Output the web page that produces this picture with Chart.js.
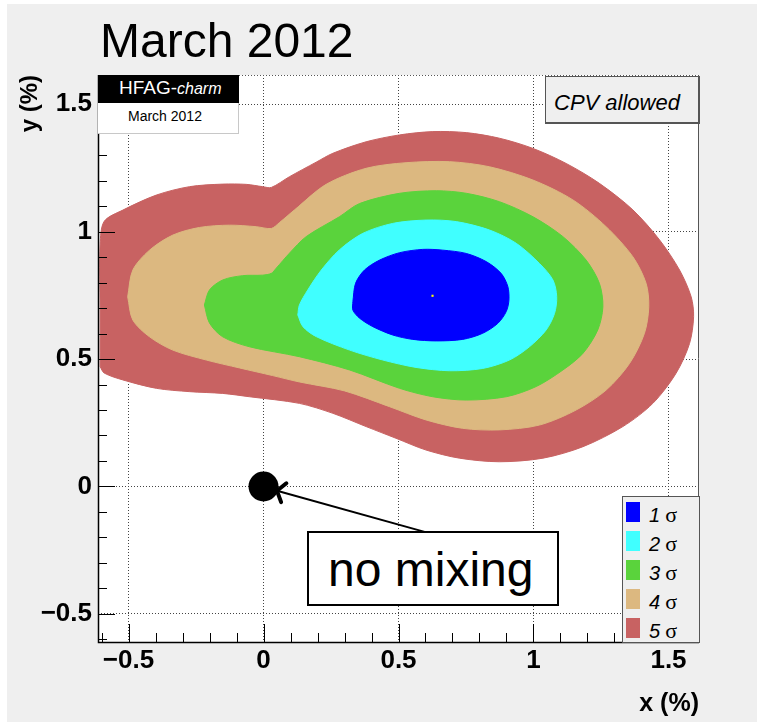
<!DOCTYPE html>
<html>
<head>
<meta charset="utf-8">
<title>HFAG-charm March 2012</title>
<script src="https://cdn.jsdelivr.net/npm/chart.js@4.4.1/dist/chart.umd.min.js"></script>
<style>
  html, body { margin: 0; padding: 0; background: #fff; }
  #page { position: relative; width: 765px; height: 727px; overflow: hidden; font-family: "Liberation Sans", Arial, sans-serif; }
  #pad { position: absolute; left: 7px; top: 4px; width: 750px; height: 718px; background: #efefef; }
  #plot { position: absolute; left: 0; top: 0; }
  .lbl { position: absolute; white-space: nowrap; line-height: 1; color: #000; }
  #title { left: 100px; top: 17px; font-size: 48px; }
  #hfagTop { position: absolute; left: 98px; top: 75px; width: 141px; height: 28px; background: #000; }
  #hfagTop .lbl { left: 21px; top: 3px; font-size: 19px; color: #fff; }
  #hfagTop i { font-size: 16px; }
  #hfagBottom { position: absolute; left: 98px; top: 103px; width: 140px; height: 30px; background: #fff; border-right: 1px solid #c8c8c8; border-bottom: 1px solid #c8c8c8; }
  #hfagBottom .lbl { left: 30px; top: 6px; font-size: 14px; }
  #cpv { position: absolute; left: 545px; top: 76px; width: 152px; height: 45px; background: #efefef; border: 1px solid #555; border-right-width: 2px; border-bottom-width: 2px; }
  #cpv .lbl { left: 8px; top: 15px; font-size: 22px; font-style: italic; }
  #legend { position: absolute; left: 622px; top: 496px; width: 76px; height: 145px; background: #efefef; border: 1px solid #555; }
  .swatch { position: absolute; left: 3px; width: 14px; height: 20px; }
  .entry { position: absolute; left: 26px; font-size: 20px; }
  .entry i { font-style: italic; }
  .entry span { font-family: "Liberation Serif", "DejaVu Serif", serif; font-size: 22px; margin-left: 5px; }
  #nomix { position: absolute; left: 307px; top: 531px; width: 252px; height: 75px; box-sizing: border-box; background: #fff; border: 2px solid #000; }
  #nomix .lbl { left: 19px; top: 13px; font-size: 48px; }
</style>
</head>
<body>
<div id="page">
  <div id="pad"></div>
  <canvas id="plot" width="765" height="727"></canvas>
  <div class="lbl" id="title">March 2012</div>
  <div id="hfagTop"><div class="lbl">HFAG-<i>charm</i></div></div>
  <div id="hfagBottom"><div class="lbl">March 2012</div></div>
  <div id="cpv"><div class="lbl">CPV allowed</div></div>
  <div id="legend"></div>
  <div id="nomix"><div class="lbl">no mixing</div></div>
</div>
<script>
  // contour outlines, x and y in %
  const sigma1X = [0.331, 0.341, 0.374, 0.430, 0.504, 0.590, 0.664, 0.751, 0.825, 0.880, 0.905, 0.909, 0.899, 0.868, 0.812, 0.738, 0.640, 0.553, 0.479, 0.405, 0.356, 0.331];
  const sigma1Y = [0.725, 0.797, 0.849, 0.888, 0.917, 0.930, 0.927, 0.914, 0.882, 0.836, 0.784, 0.731, 0.686, 0.640, 0.601, 0.577, 0.571, 0.577, 0.594, 0.627, 0.660, 0.692];

  const sigma2X = [0.127, 0.133, 0.164, 0.214, 0.281, 0.368, 0.479, 0.602, 0.714, 0.837, 0.936, 1.022, 1.072, 1.086, 1.078, 1.047, 0.985, 0.911, 0.812, 0.689, 0.565, 0.442, 0.319, 0.195, 0.146];
  const sigma2Y = [0.673, 0.712, 0.771, 0.849, 0.928, 0.993, 1.032, 1.045, 1.039, 1.006, 0.954, 0.875, 0.810, 0.745, 0.679, 0.614, 0.548, 0.496, 0.463, 0.454, 0.467, 0.496, 0.535, 0.588, 0.627];

  const sigma3X = [-0.219, -0.200, -0.151, -0.077, -0.003, 0.029, 0.047, 0.096, 0.158, 0.281, 0.356, 0.504, 0.640, 0.751, 0.874, 0.998, 1.109, 1.195, 1.244, 1.257, 1.238, 1.183, 1.109, 1.010, 0.899, 0.751, 0.627, 0.504, 0.319, 0.133, -0.052, -0.151, -0.200];
  const sigma3Y = [0.712, 0.771, 0.810, 0.827, 0.829, 0.836, 0.856, 0.915, 0.980, 1.058, 1.110, 1.150, 1.160, 1.150, 1.117, 1.058, 0.980, 0.888, 0.797, 0.705, 0.614, 0.522, 0.457, 0.392, 0.352, 0.339, 0.352, 0.385, 0.457, 0.509, 0.548, 0.587, 0.641];

  const sigma4X = [-0.503, -0.484, -0.422, -0.336, -0.237, -0.126, -0.027, 0.029, 0.059, 0.115, 0.232, 0.380, 0.528, 0.689, 0.837, 0.998, 1.146, 1.269, 1.368, 1.417, 1.427, 1.411, 1.356, 1.269, 1.158, 1.022, 0.874, 0.738, 0.602, 0.467, 0.300, 0.133, 0.034, -0.089, -0.212, -0.336, -0.422, -0.484];
  const sigma4Y = [0.744, 0.849, 0.927, 0.986, 1.016, 1.025, 1.019, 1.012, 1.035, 1.085, 1.185, 1.248, 1.270, 1.274, 1.254, 1.202, 1.124, 1.019, 0.901, 0.797, 0.705, 0.601, 0.483, 0.378, 0.300, 0.241, 0.222, 0.228, 0.261, 0.313, 0.375, 0.410, 0.435, 0.465, 0.496, 0.535, 0.587, 0.653];

  const sigma5X = [-0.605, -0.605, -0.605, -0.590, -0.521, -0.397, -0.274, -0.151, -0.064, -0.003, 0.029, 0.096, 0.195, 0.257, 0.380, 0.504, 0.627, 0.751, 0.874, 0.998, 1.121, 1.244, 1.368, 1.467, 1.541, 1.584, 1.593, 1.578, 1.528, 1.442, 1.331, 1.183, 1.035, 0.874, 0.726, 0.602, 0.491, 0.380, 0.257, 0.133, -0.052, -0.151, -0.274, -0.397, -0.521, -0.590];
  const sigma5Y = [0.470, 0.700, 0.950, 1.040, 1.084, 1.143, 1.176, 1.186, 1.185, 1.176, 1.173, 1.215, 1.272, 1.307, 1.352, 1.379, 1.392, 1.388, 1.366, 1.326, 1.267, 1.189, 1.085, 0.967, 0.849, 0.744, 0.666, 0.561, 0.444, 0.326, 0.235, 0.156, 0.111, 0.097, 0.111, 0.143, 0.189, 0.235, 0.287, 0.326, 0.352, 0.365, 0.372, 0.385, 0.418, 0.445];

  const contourLabels = ["1", "2", "3", "4", "5"];
  const contourColors = ["#0000ff", "#40ffff", "#5ad33c", "#dcb880", "#c86262"];

  const bestFitX = [0.626];
  const bestFitY = [0.748];
  const noMixX = [0];
  const noMixY = [0];
  const arrowX = [0.61, 0.05];
  const arrowY = [-0.182, -0.017];

  const xMin = -0.613, xMax = 1.613;
  const yMin = -0.61, yMax = 1.614;
  const xTickValues = [-0.5, 0, 0.5, 1, 1.5];
  const xTickLabels = ["\u22120.5", "0", "0.5", "1", "1.5"];
  const yTickValues = [-0.5, 0, 0.5, 1, 1.5];
  const yTickLabels = ["\u22120.5", "0", "0.5", "1", "1.5"];

  function pairs(xs, ys, close) {
    const pts = xs.map((x, i) => ({ x, y: ys[i] }));
    if (close) pts.push({ x: xs[0], y: ys[0] });
    return pts;
  }

  const contours = [
    [sigma1X, sigma1Y],
    [sigma2X, sigma2Y],
    [sigma3X, sigma3Y],
    [sigma4X, sigma4Y],
    [sigma5X, sigma5Y],
  ];

  // html legend, built from the same labels / colours
  const legendNode = document.getElementById("legend");
  contourLabels.forEach((label, i) => {
    const sw = document.createElement("div");
    sw.className = "swatch";
    sw.style.top = (5 + 29 * i) + "px";
    sw.style.background = contourColors[i];
    legendNode.appendChild(sw);
    const entry = document.createElement("div");
    entry.className = "lbl entry";
    entry.style.top = (7 + 29 * i) + "px";
    entry.innerHTML = "<i>" + label + "</i><span>\u03c3</span>";
    legendNode.appendChild(entry);
  });

  const plotDecor = {
    id: "plotDecor",
    beforeDraw(chart) {
      const { ctx, chartArea: a } = chart;
      ctx.save();
      ctx.fillStyle = "#ffffff";
      ctx.fillRect(a.left, a.top, a.right - a.left, a.bottom - a.top);
      ctx.restore();
    },
    afterDatasetsDraw(chart) {
      // arrow head at the "no mixing" point
      const { ctx, scales: { x, y } } = chart;
      const x0 = x.getPixelForValue(arrowX[0]);
      const y0 = y.getPixelForValue(arrowY[0]);
      const x1 = x.getPixelForValue(arrowX[1]);
      const y1 = y.getPixelForValue(arrowY[1]);
      const ang = Math.atan2(y0 - y1, x0 - x1);
      ctx.save();
      ctx.strokeStyle = "#000";
      ctx.lineWidth = 4;
      ctx.lineCap = "round";
      ctx.beginPath();
      [-0.95, 0.95].forEach((d) => {
        ctx.moveTo(x1, y1);
        ctx.lineTo(x1 + 12 * Math.cos(ang + d), y1 + 12 * Math.sin(ang + d));
      });
      ctx.stroke();
      ctx.restore();
    },
    afterDraw(chart) {
      const { ctx, chartArea: a, scales: { x, y } } = chart;
      ctx.save();
      ctx.strokeStyle = "#000";
      ctx.lineWidth = 1;
      ctx.beginPath();
      for (let i = -6; i <= 16; i += 1) {
        const px = Math.round(x.getPixelForValue(i / 10)) + 0.5;
        const xl = i % 5 === 0 ? 18 : 9;
        ctx.moveTo(px, a.bottom);
        ctx.lineTo(px, a.bottom - xl);
        const py = Math.round(y.getPixelForValue(i / 10)) + 0.5;
        const yl = i % 5 === 0 ? 17 : 9;
        ctx.moveTo(a.left, py);
        ctx.lineTo(a.left + yl, py);
      }
      ctx.stroke();

      // frame: solid left/bottom, grey right, dotted top
      ctx.beginPath();
      ctx.lineWidth = 1.5;
      ctx.moveTo(a.left + 0.5, a.top);
      ctx.lineTo(a.left + 0.5, a.bottom + 0.5);
      ctx.lineTo(a.right, a.bottom + 0.5);
      ctx.stroke();
      ctx.beginPath();
      ctx.lineWidth = 1;
      ctx.strokeStyle = "#555";
      ctx.moveTo(a.right - 0.5, a.top);
      ctx.lineTo(a.right - 0.5, a.bottom);
      ctx.stroke();
      ctx.beginPath();
      ctx.setLineDash([1, 2]);
      ctx.moveTo(a.left, a.top + 0.5);
      ctx.lineTo(a.right, a.top + 0.5);
      ctx.stroke();
      ctx.restore();
    },
  };

  const contourSets = contours.map(([xs, ys], i) => ({
    label: contourLabels[i] + " \u03c3",
    data: pairs(xs, ys, true),
    showLine: true,
    fill: "shape",
    tension: 0.3,
    backgroundColor: contourColors[i],
    borderColor: contourColors[i],
    borderWidth: 1,
    pointRadius: 0,
    pointHoverRadius: 0,
  }));

  new Chart(document.getElementById("plot"), {
    type: "scatter",
    data: {
      datasets: [
        {
          label: "best fit",
          data: pairs(bestFitX, bestFitY),
          pointStyle: "rect",
          pointRadius: 1.5,
          backgroundColor: "#ffff00",
          borderWidth: 0,
        },
        {
          label: "no mixing",
          data: pairs(noMixX, noMixY),
          pointRadius: 15,
          backgroundColor: "#000",
          borderWidth: 0,
        },
        {
          label: "arrow",
          data: pairs(arrowX, arrowY),
          showLine: true,
          borderColor: "#000",
          borderWidth: 2,
          pointRadius: 0,
          fill: false,
        },
        ...contourSets,
      ],
    },
    options: {
      responsive: false,
      animation: false,
      events: [],
      layout: { padding: { top: 75, right: 66, left: 0, bottom: 0 } },
      plugins: {
        legend: { display: false },
        tooltip: { enabled: false },
      },
      scales: {
        x: {
          type: "linear",
          min: xMin,
          max: xMax,
          z: 1,
          afterBuildTicks: (scale) => {
            scale.ticks = xTickValues.map((value) => ({ value }));
          },
          afterFit: (scale) => {
            scale.height = 85;
          },
          grid: { color: "#444", lineWidth: 1, drawTicks: false },
          border: { display: false, dash: [1, 2] },
          ticks: {
            callback: (value, index) => xTickLabels[index],
            color: "#000",
            font: { family: "'Liberation Sans', Arial, sans-serif", size: 26, weight: "bold" },
            padding: 3,
            maxRotation: 0,
            autoSkip: false,
          },
          title: {
            display: true,
            text: "x (%)",
            align: "end",
            color: "#000",
            font: { family: "'Liberation Sans', Arial, sans-serif", size: 25, weight: "bold" },
            padding: { top: 0, bottom: 8 },
          },
        },
        y: {
          type: "linear",
          min: yMin,
          max: yMax,
          z: 1,
          afterBuildTicks: (scale) => {
            scale.ticks = yTickValues.map((value) => ({ value }));
          },
          afterFit: (scale) => {
            scale.width = 98;
          },
          grid: { color: "#444", lineWidth: 1, drawTicks: false },
          border: { display: false, dash: [1, 2] },
          ticks: {
            callback: (value, index) => yTickLabels[index],
            color: "#000",
            font: { family: "'Liberation Sans', Arial, sans-serif", size: 26, weight: "bold" },
            padding: 6,
            autoSkip: false,
          },
          title: {
            display: true,
            text: "y (%)",
            align: "end",
            color: "#000",
            font: { family: "'Liberation Sans', Arial, sans-serif", size: 24, weight: "bold" },
            padding: { top: 16, bottom: 0 },
          },
        },
      },
    },
    plugins: [plotDecor],
  });
</script>
</body>
</html>
